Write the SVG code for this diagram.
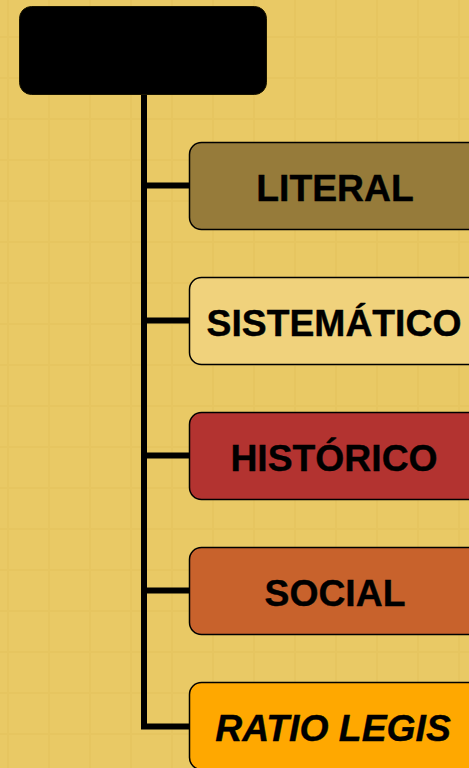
<svg xmlns="http://www.w3.org/2000/svg" width="469" height="768" viewBox="0 0 469 768">
  <defs>
    <pattern id="grid" x="7" y="-5" width="41" height="41" patternUnits="userSpaceOnUse">
      <rect width="41" height="41" fill="#E9C965"/>
      <rect x="0" y="0" width="2" height="41" fill="#E6C560"/>
      <rect x="0" y="0" width="41" height="2" fill="#E6C560"/>
    </pattern>
  </defs>
  <style>
    .box { stroke: #000; stroke-width: 1.5; }
    .lbl { font-family: "Liberation Sans", Arial, sans-serif; font-weight: bold; font-size: 37.3px; fill: #000; text-anchor: middle; stroke: #000; stroke-width: 0.4; }
    .conn { fill: none; stroke: #000; stroke-width: 6; stroke-linejoin: miter; stroke-linecap: butt; }
  </style>
  <rect width="469" height="768" fill="url(#grid)"/>
  <g id="connectors">
    <path class="conn" d="M144,94 V726.5 H190"/>
    <path class="conn" d="M144,185.5 H190"/>
    <path class="conn" d="M144,320.5 H190"/>
    <path class="conn" d="M144,455.5 H190"/>
    <path class="conn" d="M144,590.5 H190"/>
  </g>
  <g id="root">
    <rect x="19.5" y="6.5" width="247" height="88" rx="12" fill="#000" stroke="#1a1500" stroke-width="1"/>
  </g>
  <g id="literal">
    <rect class="box" x="189.5" y="142.5" width="290" height="87" rx="12" fill="#967B3A"/>
    <text class="lbl" x="335" y="201">LITERAL</text>
  </g>
  <g id="sistematico">
    <rect class="box" x="189.5" y="277.5" width="290" height="87" rx="12" fill="#F0D27C"/>
    <text class="lbl" x="334" y="336">SISTEMÁTICO</text>
  </g>
  <g id="historico">
    <rect class="box" x="189.5" y="412.5" width="290" height="87" rx="12" fill="#B33330"/>
    <text class="lbl" x="334" y="471">HISTÓRICO</text>
  </g>
  <g id="social">
    <rect class="box" x="189.5" y="547.5" width="290" height="87" rx="12" fill="#C8622C"/>
    <text class="lbl" x="335" y="606">SOCIAL</text>
  </g>
  <g id="ratio-legis">
    <rect class="box" x="189.5" y="682.5" width="290" height="87" rx="12" fill="#FFA800"/>
    <text class="lbl" x="333" y="741" font-style="italic">RATIO LEGIS</text>
  </g>
</svg>
